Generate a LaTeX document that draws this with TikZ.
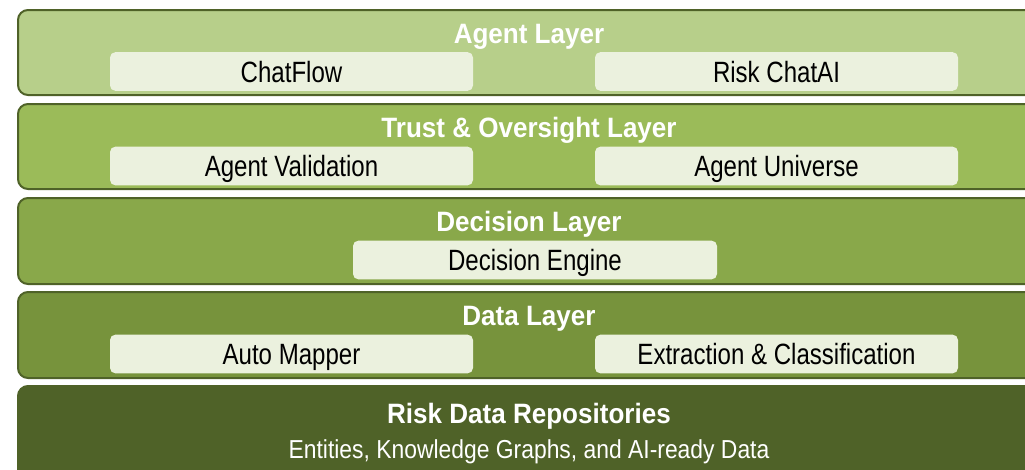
\documentclass[tikz,border=0pt]{standalone}
\usepackage{fontspec}
\setmainfont{Liberation Sans}
\newfontfamily\titlefont{Liberation Sans}[FakeStretch=0.93]
\newfontfamily\boxfont{Liberation Sans}[FakeStretch=0.82]
\newfontfamily\subfont{Liberation Sans}[FakeStretch=0.88]
\usepackage{tikz}
\usepackage{color}

\definecolor{agentgreen}{RGB}{183,207,138}
\definecolor{trustgreen}{RGB}{155,187,89}
\definecolor{decisiongreen}{RGB}{137,168,74}
\definecolor{datagreen}{RGB}{119,147,60}
\definecolor{repogreen}{RGB}{79,98,40}
\definecolor{layerborder}{RGB}{79,98,40}
\definecolor{boxfill}{RGB}{235,241,222}

\tikzset{
  layer/.style={draw=layerborder, line width=1.5pt, rounded corners=7.5pt},
  layertitle/.style={text=white, inner sep=0pt, text height=15pt, text depth=0pt, font=\titlefont\bfseries\fontsize{21}{22}\selectfont},
  compbox/.style={fill=boxfill, draw=none, rounded corners=4pt, minimum width=272.25pt, minimum height=29pt, inner sep=0pt, text height=15.75pt, text depth=0pt, font=\boxfont\fontsize{22}{23}\selectfont},
}

\begin{document}
\begin{tikzpicture}[x=0.75pt,y=0.75pt,yscale=-1,xscale=1]
\useasboundingbox (0,0) rectangle (1025,469);
\clip (0,0) rectangle (1025,469);

%Shape: Layer boxes
\draw [layer, fill=agentgreen] (18,10) rectangle (1051,95);
\draw [layer, fill=trustgreen] (18,104) rectangle (1051,189);
\draw [layer, fill=decisiongreen] (18,198) rectangle (1051,284);
\draw [layer, fill=datagreen] (18,292) rectangle (1051,378);
\draw [layer, draw=repogreen, fill=repogreen] (18,386) rectangle (1051,480);

% Agent Layer
\node (agenttitle) [layertitle] at (529,33) {Agent Layer};
\node (chatflow) [compbox] at (291.5,71.5) {ChatFlow};
\node (riskchat) [compbox] at (776.5,71.5) {Risk ChatAI};

% Trust & Oversight Layer
\node (trusttitle) [layertitle] at (529,127) {Trust \& Oversight Layer};
\node (agentval) [compbox] at (291.5,166) {Agent Validation};
\node (agentuni) [compbox] at (776.5,166) {Agent Universe};

% Decision Layer
\node (decisiontitle) [layertitle] at (529,221.5) {Decision Layer};
\node (decengine) [compbox, minimum width=273pt] at (535,260) {Decision Engine};

% Data Layer
\node (datatitle) [layertitle] at (529,315.5) {Data Layer};
\node (automapper) [compbox] at (291.5,354) {Auto Mapper};
\node (extraction) [compbox] at (776.5,354) {Extraction \& Classification};

% Repositories
\node (repotitle) [layertitle] at (529,413.5) {Risk Data Repositories};
\node (reposub) [text=white, inner sep=0pt, text height=14pt, text depth=0pt, font=\subfont\fontsize{19.5}{20}\selectfont] at (529,449) {Entities, Knowledge Graphs, and AI-ready Data};

\end{tikzpicture}
\end{document}
